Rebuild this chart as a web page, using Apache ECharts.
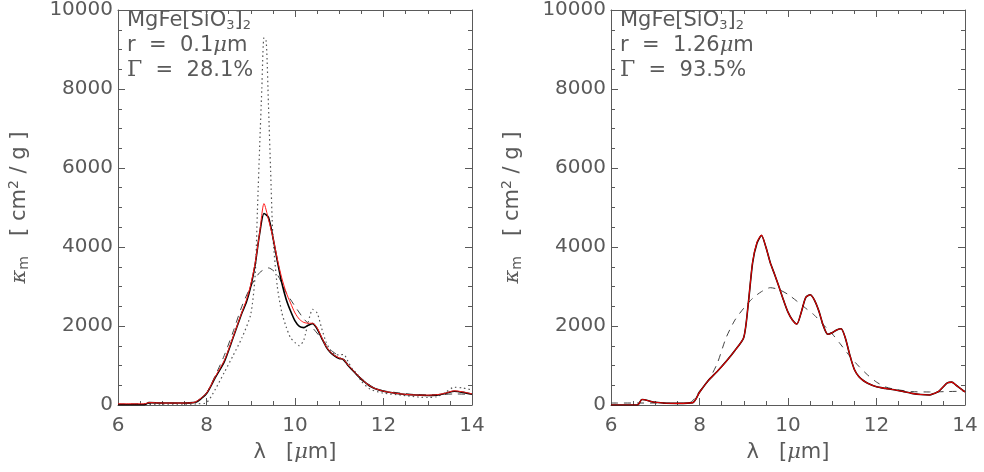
<!DOCTYPE html>
<html>
<head>
<meta charset="utf-8">
<script src="https://cdn.jsdelivr.net/npm/echarts@6/dist/echarts.min.js"></script>
<style>
  html, body { margin: 0; padding: 0; background: #fff; }
  #chart { width: 984px; height: 472px; }
</style>
</head>
<body>
<div id="chart"></div>
<script>
// axis ticks
const xTicks = [6, 8, 10, 12, 14];
const yTicks = [0, 2000, 4000, 6000, 8000, 10000];

// left panel, r = 0.1 um
const leftBlackX = [6.0, 6.6, 6.7, 7.0, 7.5, 7.7, 7.8, 8.0, 8.2, 8.4, 8.6, 8.8, 8.9, 9.0, 9.1, 9.2, 9.3, 9.4, 9.5, 9.6, 9.7, 9.8, 9.9, 10.0, 10.1, 10.2, 10.3, 10.4, 10.5, 10.6, 10.7, 10.8, 10.9, 11.0, 11.1, 11.2, 11.3, 11.4, 11.5, 11.6, 11.7, 11.8, 12.0, 12.2, 12.4, 12.6, 12.8, 13.0, 13.2, 13.4, 13.6, 13.8, 14.0];
const leftBlackY = [10, 10, 60, 50, 50, 60, 100, 290, 700, 1090, 1700, 2330, 2600, 3000, 3560, 4330, 4850, 4750, 4250, 3650, 3100, 2680, 2380, 2130, 1990, 1960, 2020, 2060, 1930, 1700, 1480, 1330, 1240, 1180, 1150, 1000, 880, 760, 650, 560, 470, 420, 350, 310, 280, 260, 250, 240, 250, 290, 350, 320, 270];

const leftRedX = [6.0, 6.6, 6.7, 7.0, 7.5, 7.7, 7.8, 8.0, 8.2, 8.4, 8.6, 8.8, 8.9, 9.0, 9.1, 9.2, 9.3, 9.4, 9.5, 9.6, 9.7, 9.8, 9.9, 10.0, 10.1, 10.2, 10.3, 10.4, 10.5, 10.6, 10.7, 10.8, 10.9, 11.0, 11.1, 11.2, 11.3, 11.4, 11.5, 11.6, 11.7, 11.8, 12.0, 12.2, 12.4, 12.6, 12.8, 13.0, 13.2, 13.4, 13.6, 13.8, 14.0];
const leftRedY = [30, 30, 60, 50, 50, 60, 110, 300, 720, 1120, 1720, 2350, 2650, 3050, 3600, 4350, 5100, 4700, 4250, 3700, 3220, 2850, 2580, 2330, 2170, 2090, 2070, 2070, 1950, 1720, 1490, 1340, 1250, 1190, 1150, 1010, 890, 770, 660, 560, 480, 420, 350, 310, 280, 260, 250, 250, 260, 300, 360, 330, 280];

const leftDashX = [6.0, 6.5, 7.0, 7.5, 7.8, 8.0, 8.2, 8.4, 8.6, 8.8, 9.0, 9.2, 9.4, 9.6, 9.8, 10.0, 10.2, 10.4, 10.6, 10.8, 11.0, 11.2, 11.4, 11.6, 11.8, 12.0, 12.4, 12.8, 13.2, 13.6, 14.0];
const leftDashY = [20, 30, 50, 40, 80, 300, 750, 1250, 1850, 2500, 3000, 3350, 3470, 3300, 2850, 2500, 2180, 1950, 1680, 1400, 1230, 1000, 780, 580, 430, 360, 300, 260, 260, 280, 270];

const leftDotX = [6.0, 7.0, 7.5, 7.8, 8.0, 8.2, 8.4, 8.6, 8.8, 9.0, 9.1, 9.15, 9.2, 9.25, 9.3, 9.35, 9.4, 9.45, 9.5, 9.6, 9.7, 9.8, 9.9, 10.0, 10.1, 10.2, 10.3, 10.4, 10.5, 10.6, 10.7, 10.8, 10.9, 11.0, 11.1, 11.2, 11.3, 11.4, 11.5, 11.7, 12.0, 12.4, 12.8, 13.0, 13.2, 13.4, 13.6, 13.8, 14.0];
const leftDotY = [0, 20, 20, 30, 60, 400, 820, 1250, 1700, 2300, 3300, 4900, 6500, 8000, 9300, 9200, 7600, 5900, 4300, 3000, 2350, 1980, 1700, 1580, 1500, 1650, 2100, 2420, 2330, 1950, 1600, 1380, 1280, 1270, 1280, 1100, 900, 800, 600, 400, 300, 250, 200, 190, 210, 320, 450, 430, 380];

// right panel, r = 1.26 um
const rightBlackX = [6.0, 6.6, 6.7, 7.0, 7.5, 7.85, 8.0, 8.2, 8.4, 8.6, 8.8, 9.0, 9.1, 9.2, 9.3, 9.4, 9.5, 9.6, 9.7, 9.8, 9.9, 10.0, 10.1, 10.2, 10.3, 10.4, 10.5, 10.6, 10.7, 10.8, 10.9, 11.0, 11.1, 11.2, 11.3, 11.4, 11.5, 11.6, 11.7, 11.8, 12.0, 12.2, 12.4, 12.6, 12.8, 13.0, 13.2, 13.3, 13.4, 13.5, 13.6, 13.7, 13.8, 14.0];
const rightBlackY = [0, 0, 140, 70, 40, 60, 320, 620, 850, 1100, 1380, 1710, 2540, 3600, 4100, 4290, 4000, 3600, 3300, 2980, 2650, 2350, 2150, 2050, 2350, 2720, 2790, 2650, 2370, 2000, 1790, 1830, 1900, 1930, 1680, 1250, 900, 720, 620, 550, 460, 420, 385, 340, 295, 265, 255, 290, 340, 450, 560, 580, 500, 330];

const rightRedX = [6.0, 6.6, 6.7, 7.0, 7.5, 7.85, 8.0, 8.2, 8.4, 8.6, 8.8, 9.0, 9.1, 9.2, 9.3, 9.4, 9.5, 9.6, 9.7, 9.8, 9.9, 10.0, 10.1, 10.2, 10.3, 10.4, 10.5, 10.6, 10.7, 10.8, 10.9, 11.0, 11.1, 11.2, 11.3, 11.4, 11.5, 11.6, 11.7, 11.8, 12.0, 12.2, 12.4, 12.6, 12.8, 13.0, 13.2, 13.3, 13.4, 13.5, 13.6, 13.7, 13.8, 14.0];
const rightRedY = [0, 0, 140, 70, 40, 60, 320, 620, 850, 1100, 1380, 1710, 2540, 3620, 4120, 4300, 4000, 3600, 3300, 2980, 2650, 2350, 2150, 2050, 2350, 2720, 2790, 2650, 2370, 2000, 1790, 1830, 1900, 1930, 1680, 1250, 900, 720, 620, 550, 460, 420, 385, 340, 295, 265, 255, 290, 340, 450, 560, 580, 500, 330];

const rightDashX = [6.0, 7.0, 7.5, 7.8, 8.0, 8.2, 8.4, 8.6, 8.8, 9.0, 9.2, 9.4, 9.6, 9.8, 10.0, 10.2, 10.4, 10.6, 10.8, 11.0, 11.2, 11.4, 11.6, 11.8, 12.0, 12.2, 12.4, 12.8, 13.2, 13.6, 14.0];
const rightDashY = [50, 50, 40, 70, 350, 620, 1050, 1700, 2150, 2450, 2700, 2870, 2970, 2920, 2800, 2630, 2450, 2270, 2030, 1800, 1520, 1230, 980, 760, 580, 460, 400, 340, 330, 340, 350];

const FONT = 'DejaVu Sans';
const INK = '#5a5a5a';

const pairs = (xs, ys) => xs.map((x, i) => [x, ys[i]]);

const baseAxis = (extra) => Object.assign({
  type: 'value',
  axisLine: { show: true, onZero: false, lineStyle: { color: INK, width: 1 } },
  axisTick: { show: true, inside: true, length: 7, lineStyle: { color: INK } },
  minorTick: { show: true, splitNumber: 4, length: 4, lineStyle: { color: INK } },
  splitLine: { show: false },
  axisLabel: { show: false }
}, extra);

const nameRich = {
  g: { fontFamily: FONT, fontSize: 21, color: INK, fontWeight: 'normal' },
  mu: { fontFamily: 'DejaVu Serif', fontStyle: 'italic', fontSize: 21, color: INK, fontWeight: 'normal' },
  sub: { fontFamily: FONT, fontSize: 14, color: INK, fontWeight: 'normal', padding: [10, 0, 0, 0] },
  sup: { fontFamily: FONT, fontSize: 14, color: INK, fontWeight: 'normal', padding: [0, 0, 11, 0] }
};

const plain = (v) => String(v);
const xLabel = { show: true, color: INK, fontFamily: FONT, fontSize: 20, margin: 11, formatter: plain };
const yLabel = { show: true, color: INK, fontFamily: FONT, fontSize: 20, margin: 5, formatter: plain };

const xAxes = [];
const yAxes = [];
[0, 1].forEach((g) => {
  xAxes.push(baseAxis({
    gridIndex: g, min: xTicks[0], max: xTicks[xTicks.length - 1], interval: 2, position: 'bottom',
    axisLabel: xLabel,
    name: '{g|λ   [}{mu|μ}{g|m]}', nameLocation: 'middle', nameGap: 37,
    nameTextStyle: { rich: nameRich }
  }));
  xAxes.push(baseAxis({
    gridIndex: g, min: xTicks[0], max: xTicks[xTicks.length - 1], interval: 2, position: 'top'
  }));
  yAxes.push(baseAxis({
    gridIndex: g, min: yTicks[0], max: yTicks[yTicks.length - 1], interval: 2000, position: 'left',
    axisLabel: yLabel,
    name: '{mu|κ}{sub|m}{g|   [ cm}{sup|2}{g| / g ]}', nameLocation: 'middle', nameGap: 86, nameRotate: 90,
    nameTextStyle: { rich: nameRich }
  }));
  yAxes.push(baseAxis({
    gridIndex: g, min: yTicks[0], max: yTicks[yTicks.length - 1], interval: 2000, position: 'right'
  }));
});

const line = (name, data, g, color, width, type) => ({
  name, type: 'line', data, xAxisIndex: g * 2, yAxisIndex: g * 2,
  showSymbol: false, smooth: 0.25, silent: true,
  lineStyle: { color, width, type }
});

const series = [
  line('dashed', pairs(leftDashX, leftDashY), 0, '#444', 1, [7, 6]),
  line('dotted', pairs(leftDotX, leftDotY), 0, '#555', 1.2, [1.5, 3]),
  line('black', pairs(leftBlackX, leftBlackY), 0, '#000', 1.6, 'solid'),
  line('red', pairs(leftRedX, leftRedY), 0, '#ff1a1a', 1, 'solid'),
  line('dashed', pairs(rightDashX, rightDashY), 1, '#444', 1, [7, 6]),
  line('black', pairs(rightBlackX, rightBlackY), 1, '#000', 1.6, 'solid'),
  line('red', pairs(rightRedX, rightRedY), 1, '#e00000', 1.1, 'solid')
];

const annot = (left, r, gamma) => ({
  left, top: 3,
  text: '{g|MgFe[SiO}{sub|3}{g|]}{sub|2}\n{g|r  =  ' + r + '}{mu|μ}{g|m}\n{gam|Γ}{g|  =  ' + gamma + '%}',
  textStyle: {
    fontWeight: 'normal',
    lineHeight: 25,
    rich: {
      g: { fontFamily: FONT, fontSize: 21, color: INK, fontWeight: 'normal', lineHeight: 25 },
      mu: { fontFamily: 'DejaVu Serif', fontStyle: 'italic', fontSize: 21, color: INK, fontWeight: 'normal', lineHeight: 25 },
      gam: { fontFamily: 'DejaVu Serif', fontSize: 22, color: INK, fontWeight: 'normal', lineHeight: 25 },
      sub: { fontFamily: FONT, fontSize: 13, color: INK, fontWeight: 'normal', padding: [10, 0, 0, 0], lineHeight: 25 }
    }
  }
});

const chart = echarts.init(document.getElementById('chart'), null, { renderer: 'canvas' });
chart.setOption({
  backgroundColor: '#fff',
  animation: false,
  title: [annot(122, '0.1', '28.1'), annot(615, '1.26', '93.5')],
  grid: [
    { left: 118, right: 512, top: 5, bottom: 67, containLabel: false },
    { left: 611, right: 19, top: 5, bottom: 67, containLabel: false }
  ],
  xAxis: xAxes,
  yAxis: yAxes,
  series
});
</script>
</body>
</html>
